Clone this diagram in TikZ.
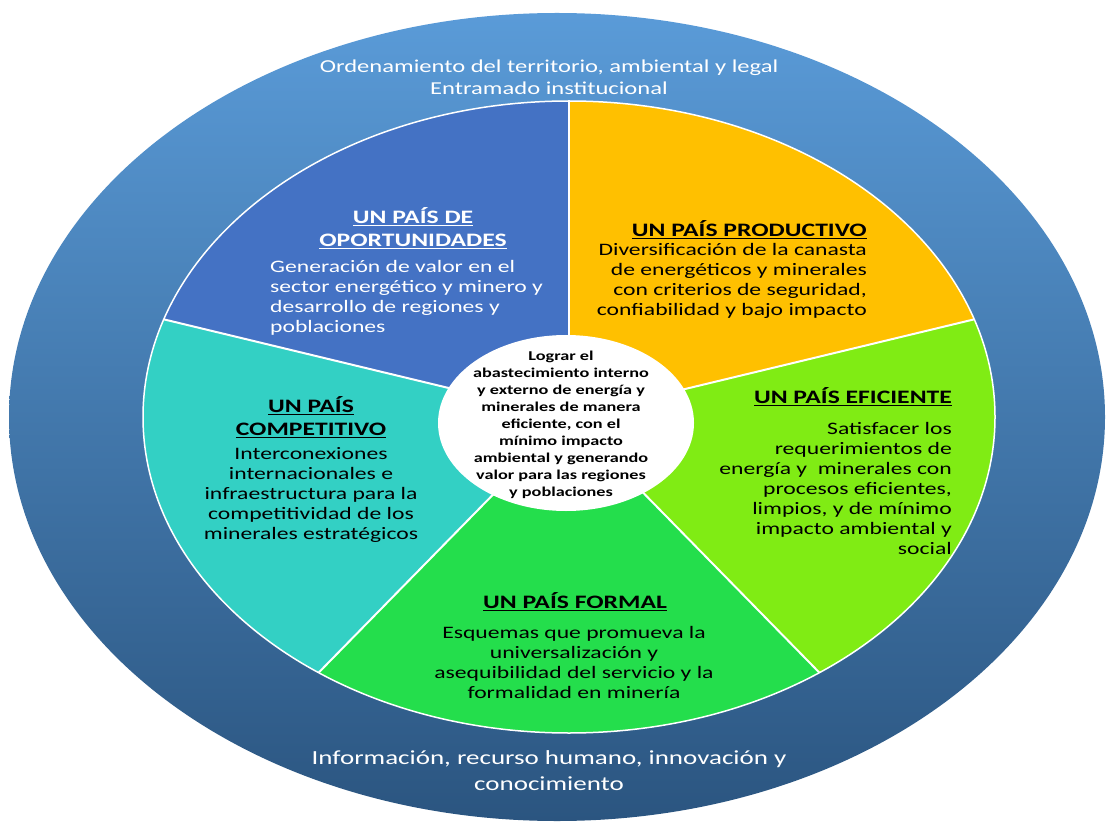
\documentclass[tikz,border=0pt]{standalone}
\usepackage{fontspec}
\setmainfont{Carlito}[FakeStretch=1.35]

% Colores
\definecolor{anilloTop}{HTML}{5A9BD8}
\definecolor{anilloBot}{HTML}{2B5580}
\definecolor{sectorAzul}{HTML}{4472C4}
\definecolor{sectorAmarillo}{HTML}{FFC000}
\definecolor{sectorLima}{HTML}{80EC14}
\definecolor{sectorVerde}{HTML}{24DE4C}
\definecolor{sectorTurquesa}{HTML}{33D0C4}

\newcommand{\titulo}[1]{\textbf{\underline{#1}}}

\begin{document}
\begin{tikzpicture}[x=1pt, y=1pt,
        cuerpo/.style={font=\fontsize{17.5}{20}\selectfont, inner sep=0pt, align=center},
        encabezado/.style={font=\fontsize{19}{23}\selectfont, inner sep=0pt, align=center},
        anillo/.style={text=white, inner sep=0pt, align=center}]
        % Marco
        \useasboundingbox (0,0) rectangle (1107,823);

        % Centros
        \coordinate (O) at (557,406);
        \coordinate (C) at (569,406);
        \coordinate (M) at (566,400);

        % Anillo exterior
        \shade[top color=anilloTop, bottom color=anilloBot] (O) ellipse [x radius=548pt, y radius=404pt];

        % Sectores
        \begin{scope}
            \clip (C) ellipse [x radius=426pt, y radius=316pt];
            \foreach \a/\col in {90/sectorAzul, 18/sectorAmarillo, -54/sectorLima, -126/sectorVerde, 162/sectorTurquesa}
                \fill[\col] (C) -- +({852*cos(\a)},{632*sin(\a)})
                    -- +({1100*cos(\a+36)},{820*sin(\a+36)})
                    -- +({852*cos(\a+72)},{632*sin(\a+72)}) -- cycle;
        \end{scope}

        % Separadores
        \foreach \a in {90,18,-54,-126,162}
            \draw[white, line width=2pt] (C) -- +({426*cos(\a)},{316*sin(\a)});
        \draw[white, line width=1.5pt] (C) ellipse [x radius=426pt, y radius=316pt];

        % Circulo central
        \fill[white] (M) ellipse [x radius=128pt, y radius=88pt];
        \node[font=\fontsize{13.5}{17}\selectfont\bfseries, inner sep=0pt, align=center] (objetivo) at (561,398)
            {Lograr el\\abastecimiento interno\\y externo de energía y\\minerales de manera\\eficiente, con el\\mínimo impacto\\ambiental y generando\\valor para las regiones\\y poblaciones};

        % Textos del anillo
        \node[anillo, font=\fontsize{18.2}{22}\selectfont] (marco) at (549,746)
            {Ordenamiento del territorio, ambiental y legal\\Entramado institucional};
        \node[anillo, font=\fontsize{20}{26}\selectfont] (soporte) at (549,52)
            {Información, recurso humano, innovación y\\conocimiento};

        % Un pais de oportunidades
        \node[encabezado, text=white] (tOportunidades) at (413,595) {\titulo{UN PAÍS DE}\\\titulo{OPORTUNIDADES}};
        \node[cuerpo, text=white, anchor=west, align=left] (bOportunidades) at (270,525)
            {Generación de valor en el\\sector energético y minero y\\desarrollo de regiones y\\poblaciones};

        % Un pais productivo
        \node[encabezado, anchor=east] (tProductivo) at (867,593) {\titulo{UN PAÍS PRODUCTIVO}};
        \node[cuerpo, anchor=east, align=right] (bProductivo) at (867,542)
            {Diversificación de la canasta\\de energéticos y minerales\\con criterios de seguridad,\\confiabilidad y bajo impacto};

        % Un pais eficiente
        \node[encabezado, anchor=east] (tEficiente) at (952,426) {\titulo{UN PAÍS EFICIENTE}};
        \node[cuerpo, anchor=east, align=right] (bEficiente) at (952,335)
            {Satisfacer los\\requerimientos de\\energía y~ minerales con\\procesos eficientes,\\limpios, y de mínimo\\impacto ambiental y\\social};

        % Un pais formal
        \node[encabezado] (tFormal) at (575,221) {\titulo{UN PAÍS FORMAL}};
        \node[cuerpo] (bFormal) at (574,161)
            {Esquemas que promueva la\\universalización y\\asequibilidad del servicio y la\\formalidad en minería};

        % Un pais competitivo
        \node[encabezado] (tCompetitivo) at (311,406) {\titulo{UN PAÍS}\\\titulo{COMPETITIVO}};
        \node[cuerpo] (bCompetitivo) at (311,328)
            {Interconexiones\\internacionales e\\infraestructura para la\\competitividad de los\\minerales estratégicos};

    \end{tikzpicture}
\end{document}
